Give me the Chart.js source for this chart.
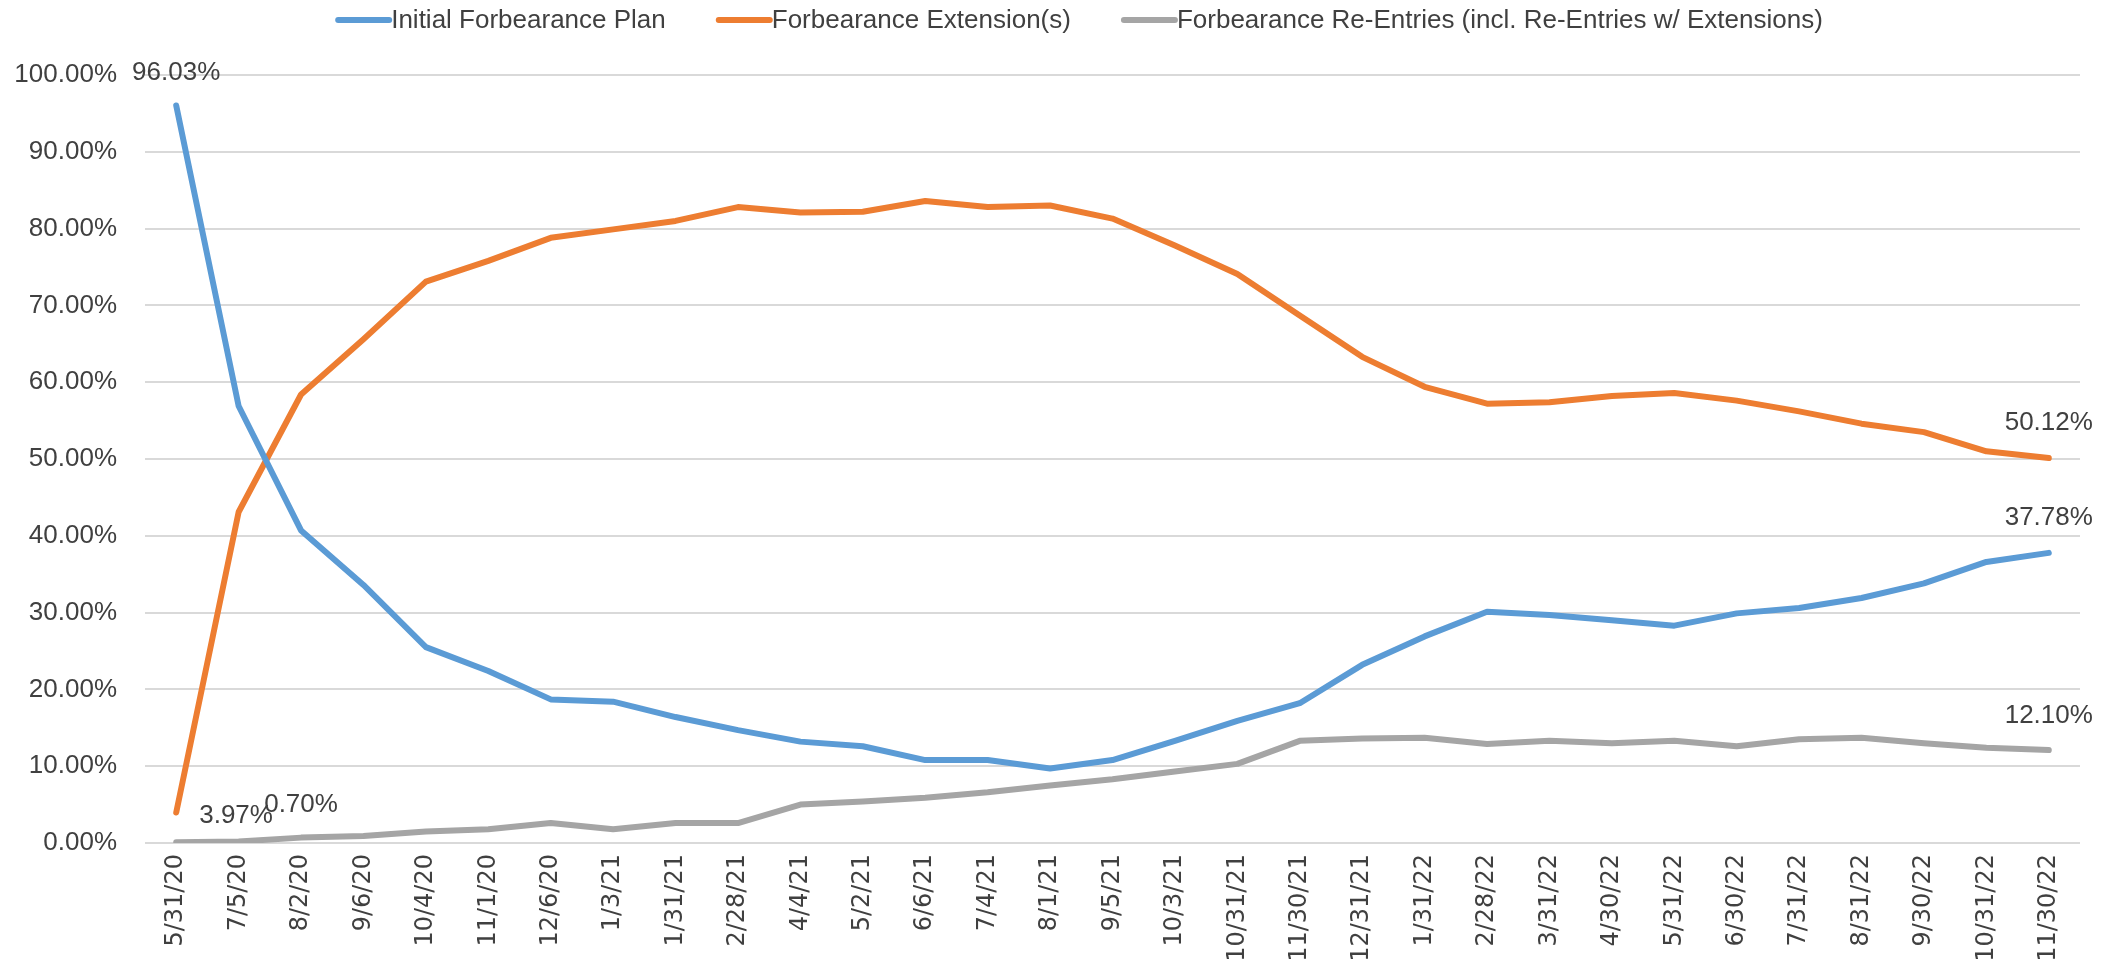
<!DOCTYPE html>
<html>
<head>
<meta charset="utf-8">
<title>Forbearance</title>
<script src="https://cdn.jsdelivr.net/npm/chart.js@4.4.1/dist/chart.umd.min.js"></script>
<style>
    html, body { margin: 0; padding: 0; background: #fff; }
    #forbearanceChart { display: block; }
</style>
</head>
<body>
<canvas id="forbearanceChart" width="2112" height="976"></canvas>
<script>
// Data (percent values)
const dates = ['5/31/20', '7/5/20', '8/2/20', '9/6/20', '10/4/20', '11/1/20', '12/6/20', '1/3/21', '1/31/21', '2/28/21',
    '4/4/21', '5/2/21', '6/6/21', '7/4/21', '8/1/21', '9/5/21', '10/3/21', '10/31/21', '11/30/21', '12/31/21',
    '1/31/22', '2/28/22', '3/31/22', '4/30/22', '5/31/22', '6/30/22', '7/31/22', '8/31/22', '9/30/22', '10/31/22', '11/30/22'];

const initialPlan = [96.03, 56.9, 40.7, 33.6, 25.5, 22.4, 18.7, 18.4, 16.4, 14.7,
    13.2, 12.6, 10.8, 10.8, 9.7, 10.8, 13.3, 15.9, 18.2, 23.2,
    26.9, 30.1, 29.7, 29.0, 28.3, 29.9, 30.6, 31.9, 33.8, 36.6, 37.78];

const extensions = [3.97, 43.1, 58.4, 65.6, 73.1, 75.8, 78.8, 79.9, 81.0, 82.8,
    82.1, 82.2, 83.6, 82.8, 83.0, 81.3, 77.8, 74.1, 68.7, 63.3,
    59.4, 57.2, 57.4, 58.2, 58.6, 57.6, 56.2, 54.6, 53.5, 51.0, 50.12];

const reEntries = [0.1, 0.2, 0.70, 0.9, 1.5, 1.8, 2.6, 1.8, 2.6, 2.6,
    5.0, 5.4, 5.9, 6.6, 7.5, 8.3, 9.3, 10.3, 13.3, 13.6,
    13.7, 12.9, 13.3, 13.0, 13.3, 12.6, 13.5, 13.7, 13.0, 12.4, 12.10];

const seriesNames = ['Initial Forbearance Plan', 'Forbearance Extension(s)', 'Forbearance Re-Entries (incl. Re-Entries w/ Extensions)'];
const seriesColors = ['#5b9bd5', '#ed7d31', '#a5a5a5'];
const yTicks = [0, 10, 20, 30, 40, 50, 60, 70, 80, 90, 100];

// which points carry a value label: [dataset, index, dx, dy, align]
const valueLabels = [
    [0, 0, 0, -33, 'center'],
    [1, 0, 23, 3, 'left'],
    [2, 2, 0, -33, 'center'],
    [1, 30, 0, -35, 'center'],
    [0, 30, 0, -35, 'center'],
    [2, 30, 0, -34, 'center']
];

const textFont = "26px 'Liberation Sans', Arial, sans-serif";
const textColor = '#404040';

function pct(v) {
    return v.toFixed(2) + '%';
}

// Data labels drawn next to points
const valueLabelPlugin = {
    id: 'valueLabels',
    afterDatasetsDraw(chart) {
        const ctx = chart.ctx;
        ctx.save();
        ctx.font = textFont;
        ctx.fillStyle = textColor;
        ctx.textBaseline = 'middle';
        valueLabels.forEach(([ds, idx, dx, dy, align]) => {
            const pt = chart.getDatasetMeta(ds).data[idx];
            ctx.textAlign = align;
            ctx.fillText(pct(chart.data.datasets[ds].data[idx]), pt.x + dx, pt.y + dy);
        });
        ctx.restore();
    }
};

// Legend like the spreadsheet one: line sample touching the text
const lineLegendPlugin = {
    id: 'lineLegend',
    afterDraw(chart) {
        const ctx = chart.ctx;
        const sample = 56;
        const gap = 50;
        const y = 20;
        const centerX = 1079;
        ctx.save();
        ctx.font = textFont;
        const widths = chart.data.datasets.map(d => ctx.measureText(d.label).width);
        const total = widths.reduce((a, w) => a + sample + w, 0) + gap * (widths.length - 1);
        let x = centerX - total / 2;
        chart.data.datasets.forEach((d, i) => {
            ctx.strokeStyle = d.borderColor;
            ctx.lineWidth = 6;
            ctx.lineCap = 'round';
            ctx.beginPath();
            ctx.moveTo(x + 3, y);
            ctx.lineTo(x + sample - 2, y);
            ctx.stroke();
            ctx.fillStyle = textColor;
            ctx.textAlign = 'left';
            ctx.textBaseline = 'middle';
            ctx.fillText(d.label, x + sample, y + 1);
            x += sample + widths[i] + gap;
        });
        ctx.restore();
    }
};

function makeDataset(label, data, color) {
    return {
        label: label,
        data: data,
        borderColor: color,
        backgroundColor: color,
        borderWidth: 6,
        pointRadius: 0,
        pointHoverRadius: 0,
        tension: 0,
        fill: false,
        borderJoinStyle: 'round',
        borderCapStyle: 'round'
    };
}

const ctx = document.getElementById('forbearanceChart');

new Chart(ctx, {
    type: 'line',
    data: {
        labels: dates,
        datasets: [
            makeDataset(seriesNames[0], initialPlan, seriesColors[0]),
            makeDataset(seriesNames[1], extensions, seriesColors[1]),
            makeDataset(seriesNames[2], reEntries, seriesColors[2])
        ]
    },
    options: {
        responsive: false,
        animation: false,
        layout: {
            padding: { top: 75, right: 32, bottom: 0, left: 0 }
        },
        plugins: {
            legend: { display: false },
            tooltip: { enabled: false }
        },
        scales: {
            x: {
                offset: true,
                grid: { display: false },
                border: { display: false },
                ticks: {
                    minRotation: 90,
                    maxRotation: 90,
                    autoSkip: false,
                    padding: 3,
                    color: '#404040',
                    font: { family: "'DejaVu Sans', sans-serif", size: 24 }
                },
                afterFit: function(scale) {
                    scale.height = 133;
                }
            },
            y: {
                min: 0,
                max: 100,
                afterBuildTicks: function(scale) {
                    scale.ticks = yTicks.map(v => ({ value: v }));
                },
                grid: {
                    color: '#d9d9d9',
                    lineWidth: 2,
                    drawTicks: false
                },
                border: { display: false },
                ticks: {
                    padding: 28,
                    color: textColor,
                    font: { family: "'Liberation Sans', Arial, sans-serif", size: 26 },
                    callback: function(value) {
                        return pct(value);
                    }
                },
                afterFit: function(scale) {
                    scale.width = 145;
                }
            }
        }
    },
    plugins: [valueLabelPlugin, lineLegendPlugin]
});
</script>
</body>
</html>
